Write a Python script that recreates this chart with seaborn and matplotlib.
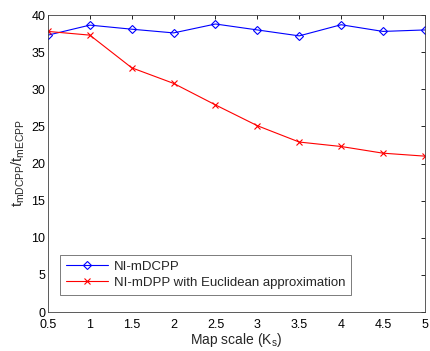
import matplotlib
matplotlib.use("Agg")
import matplotlib.pyplot as plt
import seaborn as sns
import pandas as pd

scales = [0.5, 1, 1.5, 2, 2.5, 3, 3.5, 4, 4.5, 5]
ni_mdcpp = [37.3, 38.65, 38.1, 37.6, 38.8, 38.0, 37.2, 38.7, 37.8, 38.0]
ni_mdpp_euc = [37.8, 37.3, 32.9, 30.8, 27.9, 25.1, 22.9, 22.3, 21.4, 21.0]
series_names = ["NI-mDCPP", "NI-mDPP with Euclidean approximation"]
xticks = [0.5, 1, 1.5, 2, 2.5, 3, 3.5, 4, 4.5, 5]
yticks = [0, 5, 10, 15, 20, 25, 30, 35, 40]

sns.set_theme(style="white")
plt.rcParams['font.family'] = ['Liberation Sans', 'DejaVu Sans']
plt.rcParams['mathtext.fontset'] = 'custom'
plt.rcParams['mathtext.rm'] = 'Liberation Sans'
plt.rcParams['mathtext.it'] = 'Liberation Sans'

df = pd.DataFrame({
    "scale": scales * 2,
    "value": ni_mdcpp + ni_mdpp_euc,
    "series": [series_names[0]] * len(scales) + [series_names[1]] * len(scales),
})

fig = plt.figure(figsize=(4.3, 3.51), dpi=100)
ax = fig.add_axes([0.1116, 0.111, 0.8764, 0.846])

sns.lineplot(data=df[df.series == series_names[0]], x="scale", y="value",
             color="#0000ff", marker="D", markersize=4.5, markerfacecolor="none",
             markeredgecolor="#0000ff", markeredgewidth=0.8, linewidth=0.8,
             label=series_names[0], ax=ax)
sns.lineplot(data=df[df.series == series_names[1]], x="scale", y="value",
             color="#ff0000", marker="x", markersize=4.5, markeredgewidth=0.8,
             markeredgecolor="#ff0000", markerfacecolor="#ff0000",
             linewidth=0.8, label=series_names[1], ax=ax)

ax.set_xlim(0.5, 5)
ax.set_ylim(0, 40)
ax.set_xticks(xticks)
ax.set_xticklabels([f"{t:g}" for t in xticks])
ax.set_yticks(yticks)
ax.tick_params(direction="in", length=3, width=0.6, top=True, right=True,
               labelsize=9, colors="black", pad=2)
ax.tick_params(axis="x", pad=5)
for s in ax.spines.values():
    s.set_color("#404040")
    s.set_linewidth(0.6)
ax.set_xlabel("Map scale (K$_\\mathrm{s}$)", fontsize=10, labelpad=0)
ax.set_ylabel("t$_\\mathrm{mDCPP}$/t$_\\mathrm{mECPP}$", fontsize=10.5, labelpad=3)

leg = ax.legend(loc="lower left", bbox_to_anchor=(0.015, 0.035), fontsize=9.5,
                frameon=True, fancybox=False, edgecolor="#404040",
                borderpad=0.45, handlelength=3.2, labelspacing=0.3,
                handletextpad=0.4)
leg.get_frame().set_linewidth(0.6)

fig.savefig("out.png", dpi=100)
